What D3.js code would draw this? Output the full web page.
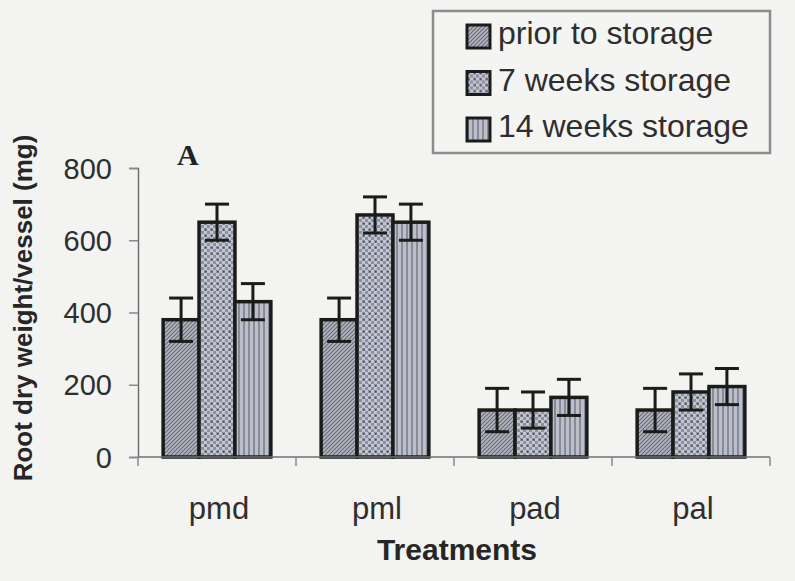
<!DOCTYPE html>
<html>
<head>
<meta charset="utf-8">
<script src="https://cdn.jsdelivr.net/npm/d3@7"></script>
<style>
  body { margin: 0; background: #f3f3f1; }
  svg { display: block; font-family: "Liberation Sans", Arial, sans-serif; }
</style>
</head>
<body>
<div id="chart"></div>
<script>
// data
const treatments = ["pmd", "pml", "pad", "pal"];
const seriesNames = ["prior to storage", "7 weeks storage", "14 weeks storage"];
const priorVals = [380, 380, 130, 130];
const priorErr = [60, 60, 60, 60];
const weeks7Vals = [650, 670, 130, 180];
const weeks7Err = [50, 50, 50, 50];
const weeks14Vals = [430, 650, 165, 195];
const weeks14Err = [50, 50, 50, 50];
const yTicks = [0, 200, 400, 600, 800];

const width = 795, height = 581;
const margin = { top: 168, right: 25, bottom: 124, left: 138 };
const innerH = height - margin.top - margin.bottom;

const svg = d3.select("#chart").append("svg")
  .attr("width", width)
  .attr("height", height);

// fill patterns
const defs = svg.append("defs");
const p1 = defs.append("pattern").attr("id", "pat0")
  .attr("width", 4).attr("height", 4).attr("patternUnits", "userSpaceOnUse");
p1.append("rect").attr("width", 4).attr("height", 4).attr("fill", "#b4b6c0");
p1.append("path").attr("d", "M-1,1 l2,-2 M0,4 l4,-4 M3,5 l2,-2")
  .attr("stroke", "#676b78").attr("stroke-width", 1.2);

const p2 = defs.append("pattern").attr("id", "pat1")
  .attr("width", 6).attr("height", 6).attr("patternUnits", "userSpaceOnUse");
p2.append("rect").attr("width", 6).attr("height", 6).attr("fill", "#c3c5ce");
p2.append("rect").attr("x", 0).attr("y", 0).attr("width", 3).attr("height", 3).attr("fill", "#8e91a0");
p2.append("rect").attr("x", 3).attr("y", 3).attr("width", 3).attr("height", 3).attr("fill", "#8e91a0");
p2.append("rect").attr("x", 1).attr("y", 1).attr("width", 1.5).attr("height", 1.5).attr("fill", "#3e4150");

const p3 = defs.append("pattern").attr("id", "pat2")
  .attr("width", 5).attr("height", 5).attr("patternUnits", "userSpaceOnUse");
p3.append("rect").attr("width", 5).attr("height", 5).attr("fill", "#bcbec8");
p3.append("rect").attr("x", 0).attr("width", 2).attr("height", 5).attr("fill", "#878a98");

const fills = ["url(#pat0)", "url(#pat1)", "url(#pat2)"];

const data = treatments.map((t, i) => ({
  treatment: t,
  values: [
    { s: 0, v: priorVals[i], e: priorErr[i] },
    { s: 1, v: weeks7Vals[i], e: weeks7Err[i] },
    { s: 2, v: weeks14Vals[i], e: weeks14Err[i] }
  ]
}));

// scales
const x0 = d3.scaleBand()
  .domain(treatments)
  .range([margin.left, width - margin.right])
  .padding(0);

const x1 = d3.scaleBand()
  .domain([0, 1, 2])
  .range([0, x0.bandwidth()])
  .paddingInner(0)
  .paddingOuter(0.7);

const y = d3.scaleLinear()
  .domain([0, 800])
  .range([margin.top + innerH, margin.top]);

const ink = "#1a1c1a";

// Y axis
const yAxis = svg.append("g")
  .attr("transform", `translate(${margin.left},0)`)
  .call(d3.axisLeft(y).tickValues(yTicks).tickSize(9).tickPadding(17).tickFormat(d3.format("d")));
yAxis.select(".domain").attr("stroke", "#6f7070").attr("stroke-width", 1.5);
yAxis.selectAll(".tick line").attr("stroke", "#8a8a8a").attr("stroke-width", 1.5);
yAxis.selectAll(".tick text")
  .attr("font-size", 29).attr("fill", "#2e2e2e")
  .attr("dy", "0.35em");

// bars
const groups = svg.selectAll("g.grp")
  .data(data)
  .enter().append("g")
  .attr("class", "grp")
  .attr("transform", d => `translate(${x0(d.treatment)},0)`);

groups.selectAll("rect")
  .data(d => d.values)
  .enter().append("rect")
  .attr("x", d => x1(d.s))
  .attr("y", d => y(d.v))
  .attr("width", x1.bandwidth())
  .attr("height", d => y(0) - y(d.v))
  .attr("fill", d => fills[d.s])
  .attr("stroke", ink)
  .attr("stroke-width", 3.5);

// error bars
const capW = 24;
const err = groups.selectAll("g.err")
  .data(d => d.values)
  .enter().append("g")
  .attr("class", "err")
  .attr("stroke", ink)
  .attr("stroke-width", 3);
err.append("line")
  .attr("x1", d => x1(d.s) + x1.bandwidth() / 2)
  .attr("x2", d => x1(d.s) + x1.bandwidth() / 2)
  .attr("y1", d => y(d.v + d.e))
  .attr("y2", d => y(d.v - d.e));
err.append("line")
  .attr("x1", d => x1(d.s) + x1.bandwidth() / 2 - capW / 2)
  .attr("x2", d => x1(d.s) + x1.bandwidth() / 2 + capW / 2)
  .attr("y1", d => y(d.v + d.e))
  .attr("y2", d => y(d.v + d.e));
err.append("line")
  .attr("x1", d => x1(d.s) + x1.bandwidth() / 2 - capW / 2)
  .attr("x2", d => x1(d.s) + x1.bandwidth() / 2 + capW / 2)
  .attr("y1", d => y(d.v - d.e))
  .attr("y2", d => y(d.v - d.e));

// X axis: line plus boundary ticks
const xAxis = svg.append("g");
xAxis.append("line")
  .attr("x1", margin.left).attr("x2", width - margin.right)
  .attr("y1", y(0)).attr("y2", y(0))
  .attr("stroke", "#6f7070").attr("stroke-width", 1.5);
const bounds = treatments.map(t => x0(t)).concat([x0.range()[1]]);
xAxis.selectAll("line.tk")
  .data(bounds)
  .enter().append("line")
  .attr("class", "tk")
  .attr("x1", d => d).attr("x2", d => d)
  .attr("y1", y(0)).attr("y2", y(0) + 9)
  .attr("stroke", "#8a8a8a").attr("stroke-width", 1.5);
xAxis.selectAll("text")
  .data(treatments)
  .enter().append("text")
  .attr("x", d => x0(d) + x0.bandwidth() / 2 + 2)
  .attr("y", y(0) + 62)
  .attr("text-anchor", "middle")
  .attr("font-size", 31)
  .attr("fill", "#2e2e2e")
  .text(d => d);

// axis titles
svg.append("text")
  .attr("x", 457)
  .attr("y", 560)
  .attr("text-anchor", "middle")
  .attr("font-size", 30)
  .attr("font-weight", "bold")
  .attr("fill", "#262626")
  .text("Treatments");

svg.append("text")
  .attr("transform", "rotate(-90)")
  .attr("x", -308)
  .attr("y", 32)
  .attr("text-anchor", "middle")
  .attr("font-size", 26)
  .attr("font-weight", "bold")
  .attr("fill", "#262626")
  .text("Root dry weight/vessel (mg)");

// panel letter
svg.append("text")
  .attr("x", 177)
  .attr("y", 165)
  .attr("font-family", "'Liberation Serif', 'Times New Roman', serif")
  .attr("font-size", 30)
  .attr("font-weight", "bold")
  .attr("fill", "#222")
  .text("A");

// legend
const legend = svg.append("g");
legend.append("rect")
  .attr("x", 433).attr("y", 11)
  .attr("width", 337).attr("height", 142)
  .attr("fill", "#f4f4f3")
  .attr("stroke", "#8c8c8c")
  .attr("stroke-width", 2.5);
const rows = legend.selectAll("g.row")
  .data(seriesNames)
  .enter().append("g")
  .attr("class", "row")
  .attr("transform", (d, i) => `translate(467,${25 + i * 46.5})`);
rows.append("rect")
  .attr("width", 23).attr("height", 23)
  .attr("fill", (d, i) => fills[i])
  .attr("stroke", ink)
  .attr("stroke-width", 3);
rows.append("text")
  .attr("x", 31)
  .attr("y", 19)
  .attr("font-size", 32)
  .attr("fill", "#2e2e2e")
  .text(d => d);
</script>
</body>
</html>
